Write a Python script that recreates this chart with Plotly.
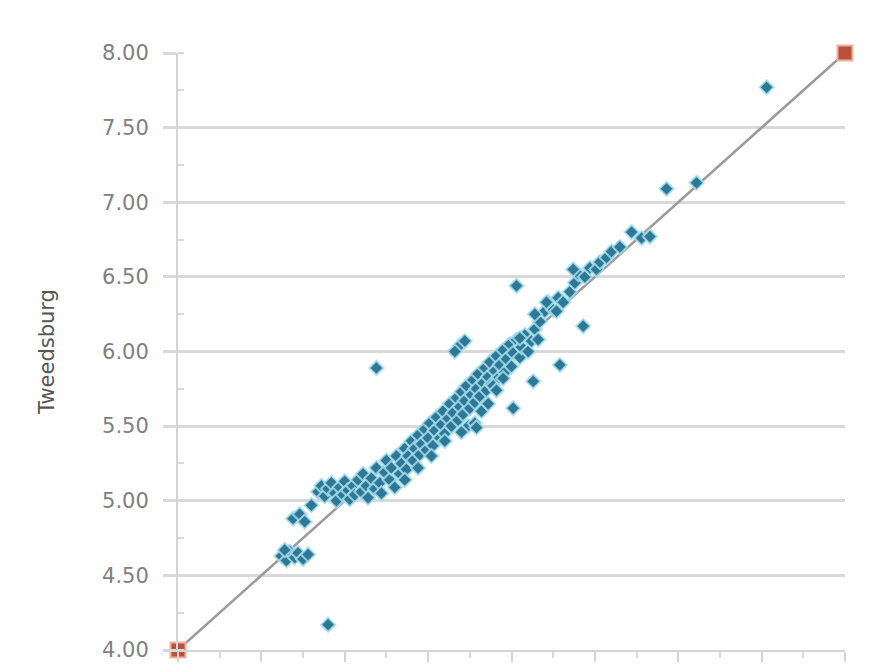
import plotly.graph_objects as go

# Scatter data (x, y)
xs = [4.62,4.65,4.67,4.70,4.72,4.75,4.78,4.64,4.69,4.73,4.76,4.80,4.84,4.86,4.88,4.90,4.92,4.94,4.95,4.97,
      4.99,5.00,5.02,5.03,5.05,5.06,5.08,5.10,5.11,5.13,5.14,5.16,5.18,5.19,5.21,5.22,5.24,5.25,5.27,5.28,
      5.30,5.31,5.33,5.34,5.36,5.37,5.38,5.40,5.41,5.42,5.44,5.45,5.46,5.48,5.49,5.50,5.51,5.53,5.54,5.55,
      5.57,5.58,5.59,5.60,5.62,5.63,5.64,5.65,5.67,5.68,5.69,5.70,5.71,5.72,5.73,5.75,5.76,5.77,5.78,5.79,
      5.80,5.81,5.83,5.84,5.85,5.86,5.87,5.88,5.90,5.91,5.92,5.93,5.95,5.96,5.97,5.99,6.00,6.01,6.03,6.05,
      6.06,6.08,6.10,6.12,6.14,5.69,5.72,5.66,5.74,5.78,5.82,5.86,5.70,5.60,5.52,5.44,5.36,
      6.17,6.20,6.22,6.25,6.28,6.31,6.35,6.38,6.40,6.44,6.47,6.51,6.53,6.57,6.60,6.65,6.72,6.78,6.83,6.93,
      7.11,7.53,
      4.90,5.19,6.03,6.13,6.29,6.01,5.89,5.79,5.91,5.95,6.43,6.27,6.21,6.37,6.16,6.14,6.05]
ys = [4.63,4.60,4.66,4.62,4.65,4.61,4.64,4.67,4.88,4.91,4.86,4.97,5.06,5.10,5.03,5.08,5.12,5.05,5.00,5.09,
      5.04,5.13,5.07,5.01,5.10,5.04,5.14,5.06,5.18,5.10,5.02,5.15,5.08,5.22,5.12,5.05,5.19,5.27,5.14,5.22,
      5.09,5.30,5.18,5.25,5.35,5.21,5.30,5.40,5.27,5.35,5.44,5.31,5.38,5.48,5.34,5.42,5.52,5.37,5.47,5.56,
      5.42,5.51,5.60,5.45,5.55,5.65,5.50,5.59,5.69,5.54,5.63,5.73,5.58,5.67,5.77,5.62,5.71,5.81,5.66,5.75,
      5.85,5.70,5.79,5.89,5.74,5.83,5.93,5.78,5.87,5.97,5.82,5.91,6.01,5.86,5.95,6.05,5.90,5.99,6.08,5.96,
      6.03,6.11,6.00,6.07,6.15,6.04,6.07,6.00,5.50,5.52,5.60,5.65,5.46,5.40,5.30,5.22,5.14,
      6.20,6.27,6.33,6.28,6.36,6.33,6.40,6.46,6.52,6.50,6.56,6.55,6.60,6.63,6.67,6.70,6.80,6.76,6.77,7.09,
      7.13,7.77,
      4.17,5.89,6.44,5.80,5.91,5.62,5.77,5.49,5.74,5.82,6.17,6.27,6.33,6.55,6.08,6.25,6.09]

# Reference diagonal endpoints
ref_x = [4.0, 8.0]
ref_y = [4.0, 8.0]

y_ticks = [4.0, 4.5, 5.0, 5.5, 6.0, 6.5, 7.0, 7.5, 8.0]
y_title = "Tweedsburg"

fig = go.Figure()
fig.add_trace(go.Scatter(
    x=ref_x, y=ref_y, mode="lines+markers",
    line=dict(color="#9a9a9a", width=2.5),
    marker=dict(symbol="square", size=15, color="#b9523a",
                line=dict(color="#f0b0a0", width=2)),
    cliponaxis=False, showlegend=False,
))
fig.add_trace(go.Scatter(
    x=xs, y=ys, mode="markers",
    marker=dict(symbol="diamond", size=11, color="#2f7895",
                line=dict(color="rgba(170,225,240,0.8)", width=2)),
    cliponaxis=False, showlegend=False,
))

fig.update_layout(
    width=869, height=666,
    margin=dict(l=170, r=32, t=45, b=21),
    plot_bgcolor="white", paper_bgcolor="white",
    font=dict(family="DejaVu Sans, Arial, sans-serif", color="#6e6e6e"),
)
fig.update_xaxes(
    range=[4.0, 8.0], showgrid=False, zeroline=False,
    showline=True, linecolor="#d4d4d4", linewidth=2,
    ticks="outside", ticklen=10, tickwidth=2, tickcolor="#d4d4d4",
    dtick=0.5, tick0=4.0,
    minor=dict(ticks="outside", ticklen=6, tickwidth=2, tickcolor="#d9d9d9", dtick=0.25),
    showticklabels=False,
)
fig.update_yaxes(
    range=[4.0, 8.0], tickvals=y_ticks, tickformat=".2f",
    showgrid=True, gridcolor="#d9d9d9", gridwidth=3, zeroline=False,
    showline=True, linecolor="#d4d4d4", linewidth=2,
    ticks="outside", ticklen=13, tickwidth=3, tickcolor="#d9d9d9",
    minor=dict(ticks="inside", ticklen=6, tickwidth=2, tickcolor="#d9d9d9", dtick=0.25, showgrid=False),
    tickfont=dict(size=21, color="#808080"),
    ticklabelstandoff=10,
    title=dict(text=y_title, font=dict(size=21, color="#555555"), standoff=42),
)

fig.write_html("out.html")
